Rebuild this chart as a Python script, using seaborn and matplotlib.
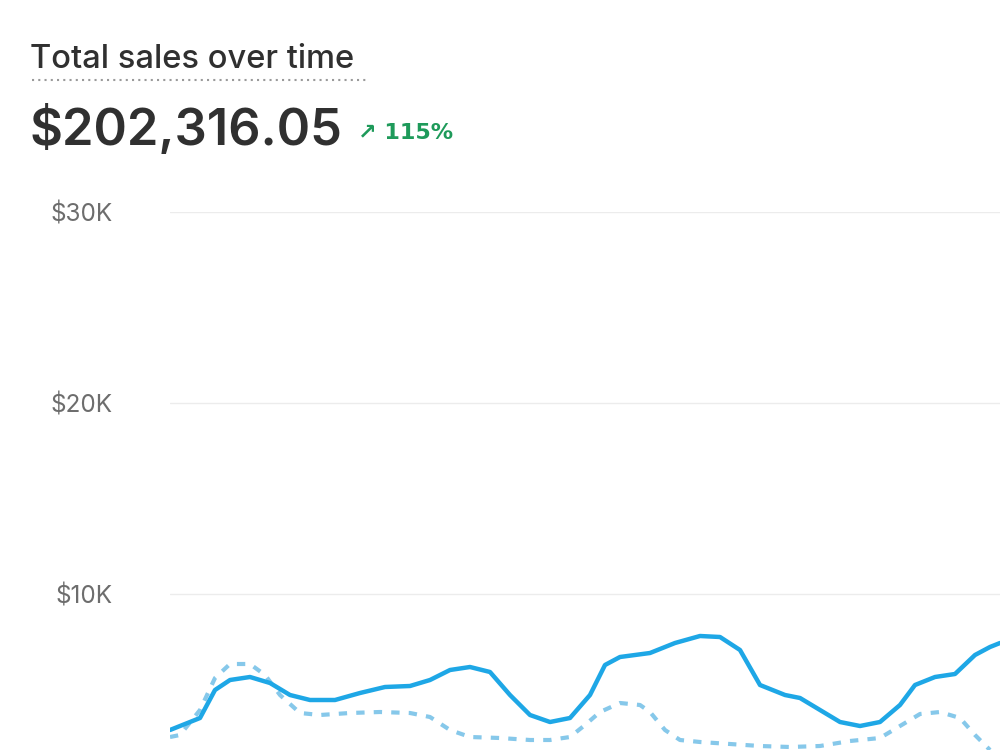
import matplotlib
matplotlib.use("Agg")
import matplotlib.pyplot as plt
import seaborn as sns
import pandas as pd

# x positions (days) and values in $K
cur_px = [170,200,215,230,250,270,290,310,335,360,385,410,430,450,470,490,510,530,550,570,590,605,620,650,675,700,720,740,760,785,800,820,840,860,880,900,915,935,955,975,990,1000]
cur_py = [730,718,690,680,677,683,695,700,700,693,687,686,680,670,667,672,695,715,722,718,695,665,657,653,643,636,637,650,685,695,698,710,722,726,722,705,685,677,674,655,647,643]
prev_px = [170,180,200,215,230,250,265,280,300,320,350,380,410,430,450,470,500,530,550,570,585,600,620,640,650,665,680,700,730,760,790,820,850,880,900,920,940,960,975,990]
prev_py = [737,735,710,678,664,664,675,695,713,715,713,712,713,717,730,737,738,740,740,737,725,712,703,705,712,730,740,742,744,746,747,746,741,738,726,714,712,718,735,750]

def day(px): return [(p-170)/830*30 for p in px]
def val(py): return [(785-p)/19.1*1000 for p in py]

cur = pd.DataFrame({"day": day(cur_px), "sales": val(cur_py)})
prev = pd.DataFrame({"day": day(prev_px), "sales": val(prev_py)})

sns.set_theme(style="white")
plt.rcParams['font.family'] = ['Inter', 'DejaVu Sans']
fig = plt.figure(figsize=(10, 7.5), dpi=100)
ax = fig.add_axes([0.17, 0.0, 0.83, 538/750])
sns.lineplot(data=prev, x="day", y="sales", ax=ax, color="#86c8ea", lw=3, linestyle=(0, (2, 2.2)))
sns.lineplot(data=cur, x="day", y="sales", ax=ax, color="#1ea7e6", lw=3.2)
ax.set_xlim(0, 30)
ax.set_ylim((785-750)/19.1*1000, 30000)
ax.set_yticks([10000, 20000, 30000])
ax.set_yticklabels(["$10K", "$20K", "$30K"])
ax.tick_params(axis="y", labelsize=17.5, colors="#6d6d6d", length=0, pad=41)
ax.set_xticks([])
ax.set_xlabel(""); ax.set_ylabel("")
ax.grid(axis="y", color="#ececec", lw=1)
for s in ax.spines.values(): s.set_visible(False)

fig.text(0.03, 1-60/750, "Total sales over time", fontsize=23.5, color="#303030", va="center", fontweight="medium")
fig.add_artist(plt.Line2D([0.032, 0.367], [1-80/750]*2, color="#9a9a9a", lw=1.5, linestyle=(0, (1, 2))))
fig.text(0.03, 1-130/750, "$202,316.05", fontsize=36.5, color="#303030", va="center", fontweight="semibold")
fig.text(0.358, 1-133/750, "↗ 115%", fontsize=16, color="#1e9a5a", va="center", fontweight="bold", family=["DejaVu Sans"])
fig.savefig("out.png", dpi=100)
